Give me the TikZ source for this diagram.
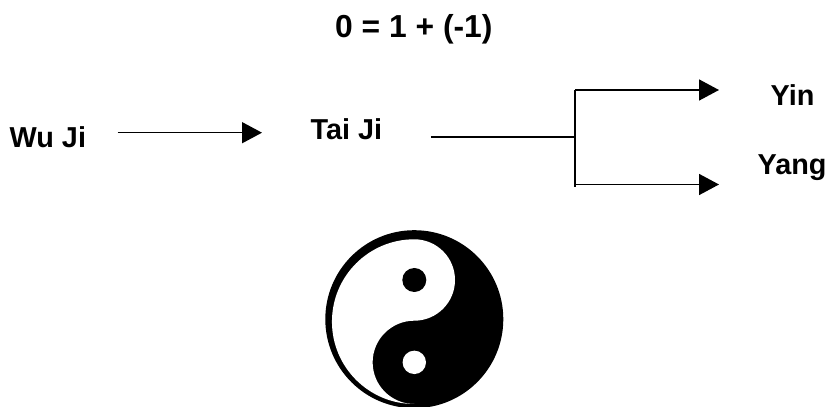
\documentclass[tikz,border=0pt]{standalone}
\usepackage{fontspec}
\setmainfont{Liberation Sans}
\usetikzlibrary{arrows.meta}

\tikzset{
	etichetta/.style={anchor=base west, inner sep=0pt, font=\fontsize{8.2}{10}\selectfont\bfseries},
	freccia/.style={line width=0.45pt, -{Triangle[length=2mm,width=2.1mm]}},
	ramo/.style={line width=0.45pt}
}

\begin{document}
\begin{tikzpicture}

		\useasboundingbox (0,0) rectangle (8.28,4.07);

		\node[etichetta, font=\fontsize{9.05}{11}\selectfont\bfseries] (formula) at (3.345,3.695) {0 = 1 + (-1)};
		\node[etichetta] (wuji) at (0.09,2.59) {Wu Ji};
		\node[etichetta] (taiji) at (3.10,2.67) {Tai Ji};
		\node[etichetta] (yin) at (7.70,3.01) {Yin};
		\node[etichetta] (yang) at (7.57,2.32) {Yang};

		\coordinate (nodo) at (5.75,2.70);
		\coordinate (alto) at (5.75,3.17);
		\coordinate (basso) at (5.75,2.225);
		\coordinate (fine) at (5.75,2.20);

		\draw[freccia] ([shift={(0.31,0.153)}]wuji.base east) -- ([shift={(-0.48,0.073)}]taiji.base west);
		\draw[ramo] ([shift={(0.48,0.03)}]taiji.base east) -- (nodo);
		\draw[ramo] (alto) -- (fine); %Verticale
		\draw[freccia] (alto) -- ([shift={(-0.51,0.16)}]yin.base west);
		\draw[freccia] (basso) -- ([shift={(-0.38,-0.095)}]yang.base west);

		%Simbolo
		\fill[black] (4.143,0.878) circle (0.89);
		\fill[white] (4.143,0.863) arc (-90:90:0.407) arc (90:270:0.8235) arc (270:90:0.4165) -- cycle;
		\fill[black] (4.143,1.27) circle (0.12);
		\fill[white] (4.143,0.4465) circle (0.117);

	\end{tikzpicture}
\end{document}
